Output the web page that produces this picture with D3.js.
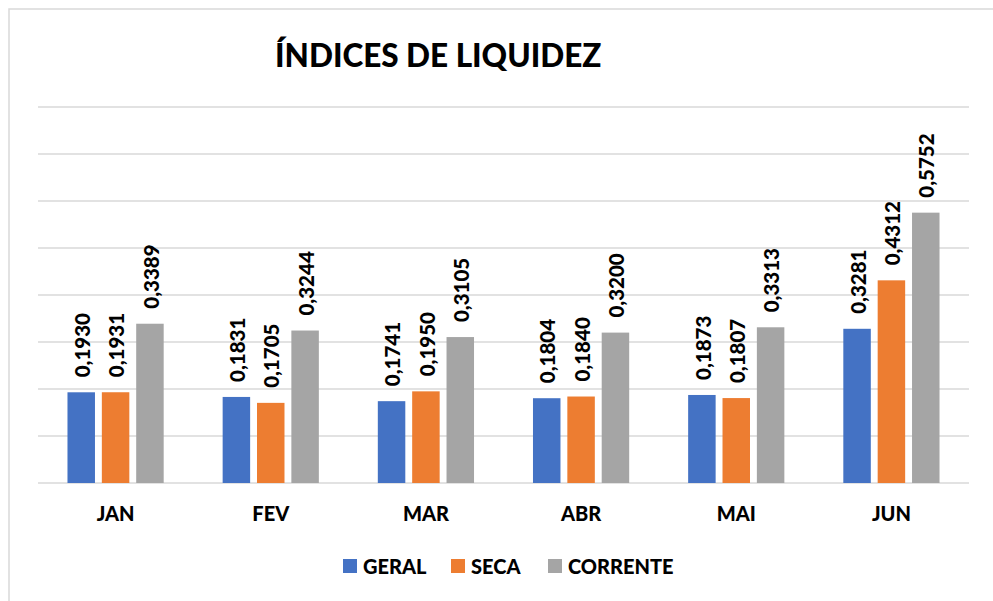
<!DOCTYPE html>
<html><head><meta charset="utf-8">
<script src="https://cdn.jsdelivr.net/npm/d3@7"></script>
<style>body{margin:0;background:#fff}svg{display:block}text{font-family:Lato,"Open Sans",sans-serif;font-weight:bold;fill:#000}</style>
</head><body>
<svg id="c" width="993" height="601"></svg>
<script>
const categories = ["JAN","FEV","MAR","ABR","MAI","JUN"];
const seriesNames = ["GERAL","SECA","CORRENTE"];
const geral = [0.1930,0.1831,0.1741,0.1804,0.1873,0.3281];
const seca = [0.1931,0.1705,0.1950,0.1840,0.1807,0.4312];
const corrente = [0.3389,0.3244,0.3105,0.3200,0.3313,0.5752];
const colors = ["#4472C4","#ED7D31","#A5A5A5"];
const yTicks = [0,0.1,0.2,0.3,0.4,0.5,0.6,0.7,0.8];
const title = "ÍNDICES DE LIQUIDEZ";

const svg = d3.select("#c");
const seriesVals = [geral, seca, corrente];
const mLeft = 38, mRight = 969, mTop = 107, mBottom = 483;

svg.append("rect").attr("x",9).attr("y",9).attr("width",1100).attr("height",700)
  .attr("fill","none").attr("stroke","#d9d9d9").attr("stroke-width",1.5);

const x0 = d3.scaleBand().domain(categories).range([mLeft,mRight]).padding(0);
const bw = x0.bandwidth();
const x1 = d3.scaleBand().domain(seriesNames).range([bw*0.19,bw*0.81]).paddingInner(0.2);
const y = d3.scaleLinear().domain([0,0.8]).range([mBottom,mTop]);

svg.append("g").selectAll("line").data(yTicks).join("line")
  .attr("x1",mLeft).attr("x2",mRight).attr("y1",d=>y(d)).attr("y2",d=>y(d))
  .attr("stroke","#d9d9d9").attr("stroke-width",1.5);

const groups = svg.append("g").selectAll("g").data(categories).join("g")
  .attr("transform",d=>`translate(${x0(d)},0)`);

groups.each(function(cat,i){
  const g = d3.select(this);
  seriesNames.forEach((s,j)=>{
    const v = seriesVals[j][i];
    g.append("rect").attr("x",x1(s)).attr("width",x1.bandwidth())
      .attr("y",y(v)).attr("height",y(0)-y(v)).attr("fill",colors[j]);
    const cx = x1(s)+x1.bandwidth()/2+1.5;
    g.append("text").attr("transform",`translate(${cx},${y(v)-15}) rotate(-90)`)
      .attr("text-anchor","start").attr("dy","0.35em").attr("font-size",20.5)
      .style("font-weight",900)
      .text(d3.format(".4f")(v).replace(".",","));
  });
});

const xAxis = svg.append("g").attr("transform",`translate(0,${mBottom})`)
  .call(d3.axisBottom(x0).tickSize(0).tickPadding(24));
xAxis.select(".domain").remove();
xAxis.selectAll("text").attr("font-size",20).attr("font-family","Lato").style("font-weight",900).attr("fill","#000");

svg.append("text").attr("x",275).attr("y",67).attr("font-size",31.5).style("font-weight",900).text(title);

const legX = [343,451,548];
const leg = svg.append("g");
seriesNames.forEach((s,j)=>{
  leg.append("rect").attr("x",legX[j]).attr("y",559).attr("width",14).attr("height",14).attr("fill",colors[j]);
  leg.append("text").attr("x",legX[j]+20).attr("y",574).attr("font-size",20).style("font-weight",900).text(s);
});
</script></body></html>
